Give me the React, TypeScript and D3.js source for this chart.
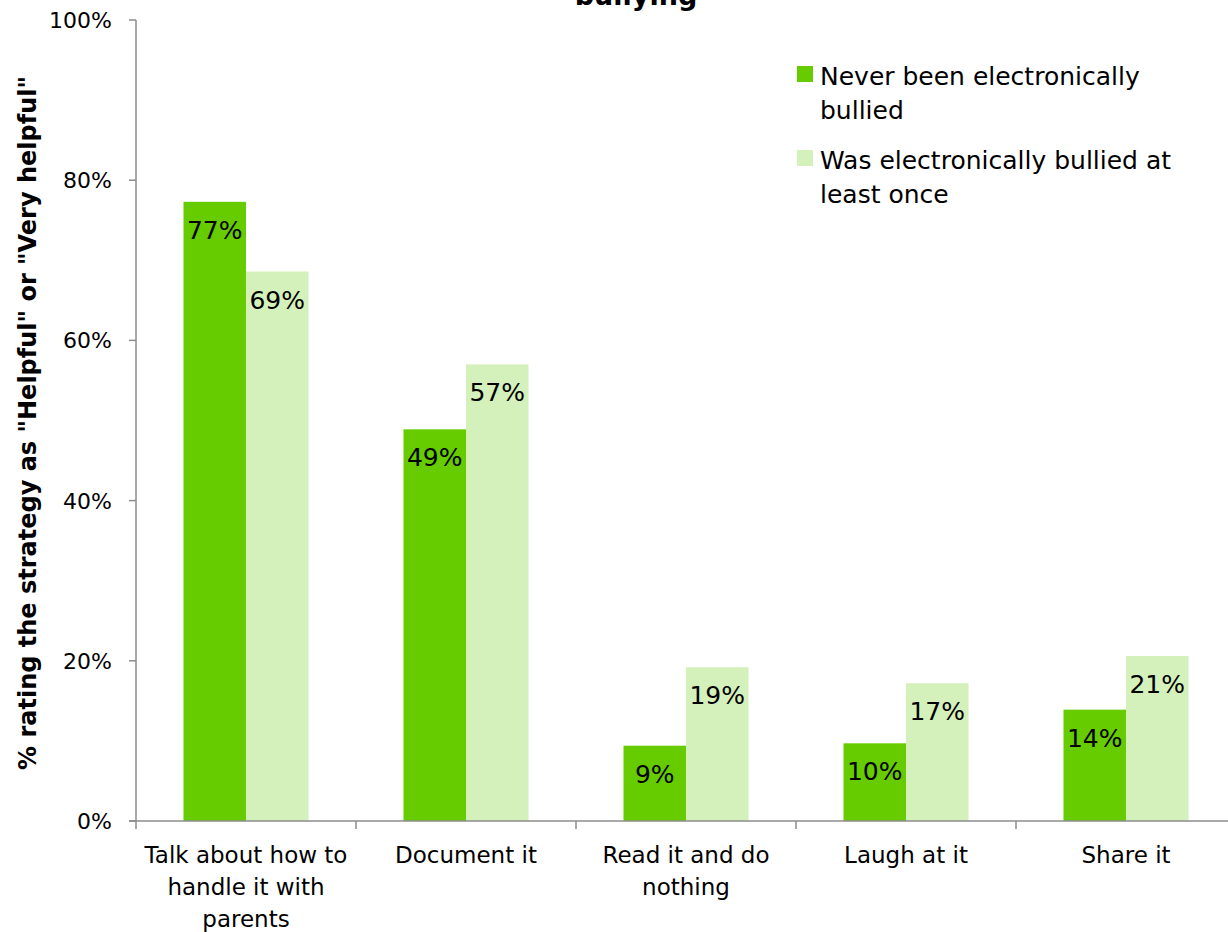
import React from "react";
import * as d3 from "d3";

const categories: string[][] = [
  ["Talk about how to", "handle it with", "parents"],
  ["Document it"],
  ["Read it and do", "nothing"],
  ["Laugh at it"],
  ["Share it"],
];
const neverBullied: number[] = [77.3, 48.9, 9.4, 9.7, 13.9];
const wasBullied: number[] = [68.6, 57.0, 19.2, 17.2, 20.6];
const seriesNames: string[][] = [
  ["Never been electronically", "bullied"],
  ["Was electronically bullied at", "least once"],
];
const yTicks: number[] = [0, 20, 40, 60, 80, 100];
const colors = ["#66CC00", "#D4F1BC"];

const W = 1228;
const H = 932;
const FONT = "'DejaVu Sans', sans-serif";

export default function App() {
  const x0 = 136;
  const x1 = 1236;
  const yTop = 20;
  const yBot = 821;
  const idx = categories.map((_, i) => String(i));
  const xBand = d3.scaleBand<string>().domain(idx).range([x0, x1]).padding(0);
  const inner = d3
    .scaleBand<string>()
    .domain(["0", "1"])
    .range([0, xBand.bandwidth()])
    .paddingOuter(0.76)
    .paddingInner(0);
  const y = d3.scaleLinear().domain([0, 100]).range([yBot, yTop]);
  const series = [neverBullied, wasBullied];

  return (
    <svg
      width={W}
      height={H}
      style={{ position: "absolute", left: 0, top: 0, background: "#fff" }}
      fontFamily={FONT}
    >
      <text x={636} y={5} textAnchor="middle" fontWeight="bold" fontSize={27} fill="#000">
        bullying
      </text>
      {/* bars */}
      {series.map((vals, s) =>
        vals.map((v, i) => {
          const bx = (xBand(String(i)) as number) + (inner(String(s)) as number);
          const bw = inner.bandwidth();
          return (
            <g key={`${s}-${i}`}>
              <rect x={bx} y={y(v)} width={bw} height={yBot - y(v)} fill={colors[s]} />
              <text
                x={bx + bw / 2}
                y={y(v) + 37}
                textAnchor="middle"
                fontSize={25}
                fill="#000"
              >
                {`${Math.round(v)}%`}
              </text>
            </g>
          );
        })
      )}
      {/* y axis */}
      <line x1={x0} x2={x0} y1={yTop} y2={yBot} stroke="#8c8c8c" strokeWidth={1.5} />
      {yTicks.map((t) => (
        <g key={t}>
          <line x1={x0 - 7} x2={x0} y1={y(t)} y2={y(t)} stroke="#8c8c8c" strokeWidth={1.5} />
          <text x={112} y={y(t) + 8} textAnchor="end" fontSize={22} fill="#000">
            {`${t}%`}
          </text>
        </g>
      ))}
      {/* x axis */}
      <line x1={x0 - 7} x2={W} y1={yBot} y2={yBot} stroke="#8c8c8c" strokeWidth={1.5} />
      {idx.map((k) => (
        <line
          key={k}
          x1={xBand(k) as number}
          x2={xBand(k) as number}
          y1={yBot}
          y2={yBot + 8}
          stroke="#8c8c8c"
          strokeWidth={1.5}
        />
      ))}
      {categories.map((lines, i) => (
        <text
          key={i}
          x={(xBand(String(i)) as number) + xBand.bandwidth() / 2}
          textAnchor="middle"
          fontSize={23}
          fill="#000"
        >
          {lines.map((l, j) => (
            <tspan key={j} x={(xBand(String(i)) as number) + xBand.bandwidth() / 2} y={863 + j * 32}>
              {l}
            </tspan>
          ))}
        </text>
      ))}
      {/* y title */}
      <text
        transform={`translate(36, 423) rotate(-90)`}
        textAnchor="middle"
        fontWeight="bold"
        fontSize={24}
        fill="#000"
      >
        % rating the strategy as "Helpful" or "Very helpful"
      </text>
      {/* legend */}
      {seriesNames.map((lines, s) => (
        <g key={s} transform={`translate(797, ${66 + s * 84})`}>
          <rect x={0} y={0} width={16} height={16} fill={colors[s]} />
          <text fontSize={25} fill="#000">
            {lines.map((l, j) => (
              <tspan key={j} x={23} y={19 + j * 34}>
                {l}
              </tspan>
            ))}
          </text>
        </g>
      ))}
    </svg>
  );
}
